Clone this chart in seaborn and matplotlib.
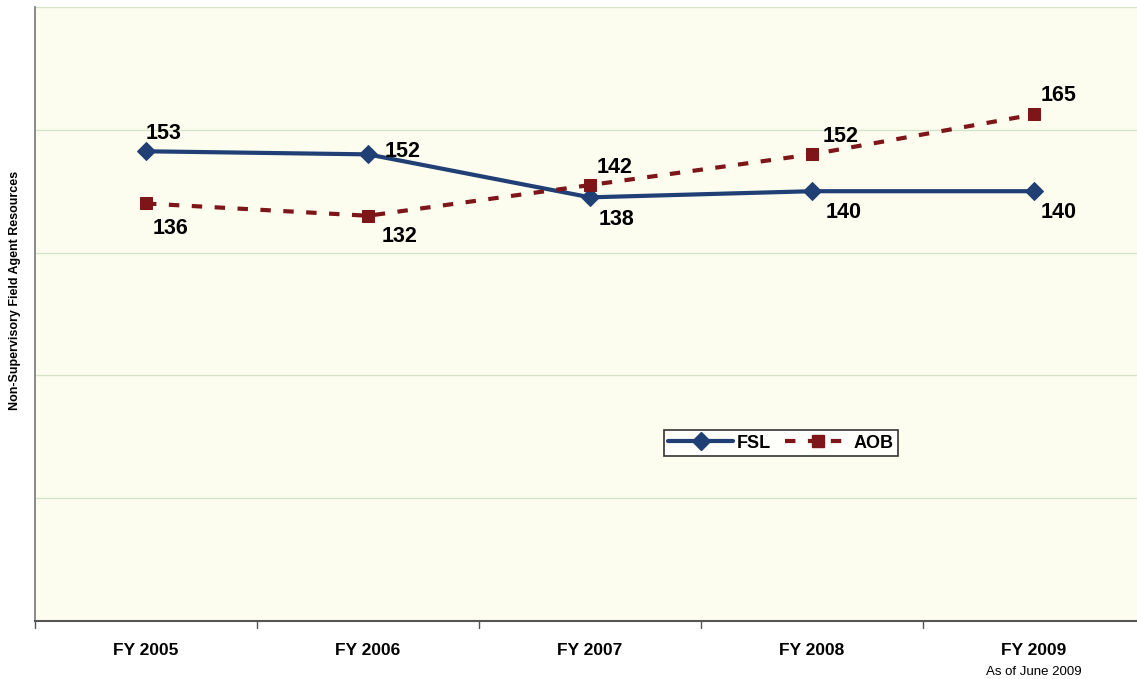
import matplotlib
matplotlib.use("Agg")
import matplotlib.pyplot as plt
import seaborn as sns
import pandas as pd
from matplotlib.lines import Line2D

categories = ["FY 2005", "FY 2006", "FY 2007", "FY 2008", "FY 2009"]
fsl = [153, 152, 138, 140, 140]
aob = [136, 132, 142, 152, 165]
ylabel = "Non-Supervisory Field Agent Resources"
note = "As of June 2009"

sns.set_theme(style="white")
plt.rcParams['font.family'] = ['Liberation Sans', 'DejaVu Sans']
plt.rcParams['text.color'] = 'black'
plt.rcParams['xtick.color'] = 'black'
plt.rcParams['xtick.labelcolor'] = 'black'

fsl_color = "#1F3F75"
aob_color = "#7E1518"

fig = plt.figure(figsize=(11.37, 6.79), dpi=100)
fig.patch.set_facecolor("white")
ax = fig.add_axes([35/1137, 1-621/679, 1-35/1137, (621-7)/679])
ax.set_facecolor("#FDFDEF")

x = list(range(len(categories)))
df_fsl = pd.DataFrame({"x": x, "v": fsl})
df_aob = pd.DataFrame({"x": x, "v": aob})

sns.lineplot(data=df_fsl, x="x", y="v", ax=ax, color=fsl_color, lw=3,
             marker="D", markersize=9, markeredgecolor=fsl_color, zorder=3)
sns.lineplot(data=df_aob, x="x", y="v", ax=ax, color=aob_color, lw=3,
             linestyle=(0, (2.5, 3)), marker="s", markersize=9,
             markeredgecolor=aob_color, zorder=3)

ax.set_ylim(0, 200)
ax.set_xlim(-0.5, 4.464)
ax.set_yticks([40, 80, 120, 160, 200])
ax.yaxis.grid(True, color="#D5E3C8", lw=1)
ax.set_yticklabels([])
ax.tick_params(axis="y", length=0)

ax.set_xticks(x)
ax.set_xticklabels(categories, fontsize=12.5, fontweight="bold", color="black")
ax.tick_params(axis="x", length=0, pad=16)
for b in [-0.5, 0.5, 1.5, 2.5, 3.5]:
    ax.plot([b, b], [0, -0.012], transform=ax.get_xaxis_transform(),
            color="#555555", lw=1, clip_on=False)
ax.text(4, -0.073, note, transform=ax.get_xaxis_transform(), ha="center",
        va="top", fontsize=9.5, color="black")

for s in ["top", "right"]:
    ax.spines[s].set_visible(False)
ax.spines["left"].set_color("#777777")
ax.spines["bottom"].set_color("#555555")
ax.spines["left"].set_linewidth(1.2)
ax.spines["bottom"].set_linewidth(1.5)

ax.set_xlabel("")
ax.set_ylabel("")
fig.text(15/1137, 1-290/679, ylabel, rotation=90, ha="center", va="center",
         fontsize=9, fontweight="bold", color="black")

lab_kw = dict(fontsize=15.5, fontweight="bold", color="black", zorder=5)
fsl_offsets = [(0, 13, "left"), (12, 2, "left"), (6, -16, "left"), (10, -15, "left"), (5, -15, "left")]
aob_offsets = [(5, -18, "left"), (10, -15, "left"), (5, 13, "left"), (8, 13, "left"), (5, 14, "left")]
for i, v in enumerate(fsl):
    dx, dy, ha = fsl_offsets[i]
    ax.annotate(str(v), (i, v), xytext=(dx, dy), textcoords="offset points",
                ha=ha, va="center", **lab_kw)
for i, v in enumerate(aob):
    dx, dy, ha = aob_offsets[i]
    ax.annotate(str(v), (i, v), xytext=(dx, dy), textcoords="offset points",
                ha=ha, va="center", **lab_kw)

handles = [Line2D([], [], color=fsl_color, lw=3, marker="D", markersize=9),
           Line2D([], [], color=aob_color, lw=3, linestyle=(0, (2.5, 3)), marker="s", markersize=9)]
leg = fig.legend(handles, ["FSL", "AOB"], ncol=2, loc="center",
                 bbox_to_anchor=(781/1137, 1-443/679), frameon=True,
                 fancybox=False, edgecolor="black", facecolor="white",
                 prop={"weight": "bold", "size": 13}, handlelength=3.6,
                 columnspacing=0.8, handletextpad=0.2, borderpad=0.25)
leg.get_frame().set_linewidth(1.2)

fig.savefig("out.png", dpi=100)
